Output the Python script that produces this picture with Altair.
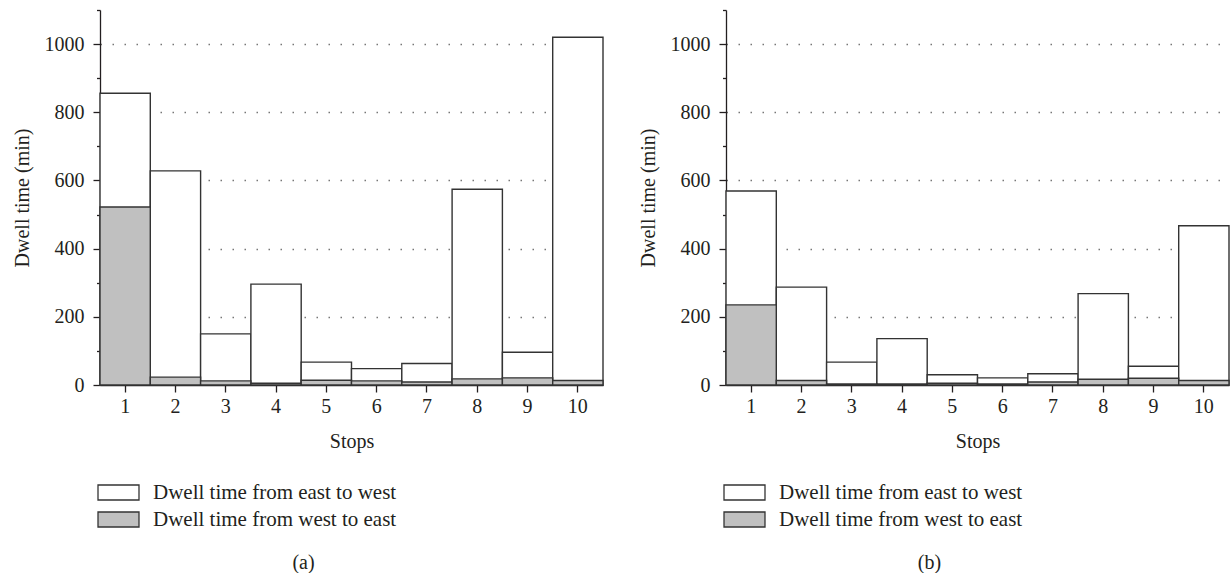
import altair as alt
import pandas as pd

stops = list(range(1, 11))
series = ["Dwell time from east to west", "Dwell time from west to east"]
a_east_west = [856, 628, 150, 296, 67, 48, 63, 574, 96, 1020]
a_west_east = [522, 23, 12, 5, 14, 12, 9, 18, 21, 13]
b_east_west = [569, 287, 67, 136, 30, 21, 33, 268, 55, 467]
b_west_east = [235, 13, 3, 3, 5, 3, 9, 17, 20, 13]
y_ticks = list(range(0, 1101, 100))

FONT = "Liberation Serif"
INK = "#231f20"


def panel(ew, we, caption):
    df = pd.DataFrame({
        "Stop": stops * 2,
        "Value": ew + we,
        "Series": [series[0]] * len(stops) + [series[1]] * len(stops),
    })
    base = alt.Chart(df).encode(
        x=alt.X(
            "Stop:O",
            title="Stops",
            scale=alt.Scale(paddingInner=0, paddingOuter=0),
            axis=alt.Axis(labelAngle=0, tickSize=7, labelPadding=4, titlePadding=15),
        ),
        y=alt.Y(
            "Value:Q",
            title="Dwell time (min)",
            stack=None,
            scale=alt.Scale(domain=[0, 1100], nice=False),
            axis=alt.Axis(
                values=y_ticks,
                format="d",
                labelExpr="datum.value % 200 === 0 && datum.value <= 1000 ? datum.label : ''",
                tickSize={"condition": {"test": "datum.value % 200 === 0", "value": 7}, "value": 3.5},
                grid=True,
                gridOpacity={"condition": {"test": "datum.value % 200 === 0 && datum.value > 0 && datum.value <= 1000", "value": 1}, "value": 0},
                gridDash=[1.5, 10.5],
                gridColor="#777777",
                gridWidth=1.5,
                labelPadding=9,
                titlePadding=12,
            ),
        ),
        fill=alt.Fill(
            "Series:N",
            scale=alt.Scale(domain=series, range=["white", "#c0c0c0"]),
            legend=alt.Legend(
                title=None,
                orient="none",
                legendX=8,
                legendY=472,
                direction="vertical",
                symbolType="M-2.733,-1L2.733,-1L2.733,1L-2.733,1Z",
                symbolSize=225,
                symbolStrokeColor="#333333",
                symbolStrokeWidth=1.3,
                labelFont=FONT,
                labelFontSize=21,
                labelColor=INK,
                labelOffset=24,
                labelLimit=0,
                padding=0,
                rowPadding=5,
            ),
        ),
    )
    ew_layer = base.transform_filter(alt.datum.Series == series[0]).mark_bar(
        stroke="#333333", strokeWidth=1.4
    )
    we_layer = base.transform_filter(alt.datum.Series == series[1]).mark_bar(
        stroke="#333333", strokeWidth=1.4
    )
    return alt.layer(ew_layer, we_layer).properties(
        width=503,
        height=375,
        title=alt.TitleParams(
            caption, orient="bottom", anchor="middle", dx=-48, offset=23,
            font=FONT, fontSize=20, fontWeight="normal", color=INK,
        ),
    )


chart = alt.hconcat(
    panel(a_east_west, a_west_east, "(a)"),
    panel(b_east_west, b_west_east, "(b)"),
    spacing=34,
).resolve_scale(fill="independent").properties(
    padding={"left": 12, "top": 9, "right": 0, "bottom": 0},
    background="white",
).configure_view(stroke=None).configure_axis(
    domainColor="#231f20",
    domainWidth=1.3,
    tickColor="#231f20",
    tickWidth=1.3,
    labelFont=FONT,
    labelFontSize=20,
    labelColor=INK,
    titleFont=FONT,
    titleFontSize=20,
    titleFontWeight="normal",
    titleColor=INK,
).configure_axisX(grid=False)

chart.save("out.html", embed_options={"renderer": "svg", "actions": False})
